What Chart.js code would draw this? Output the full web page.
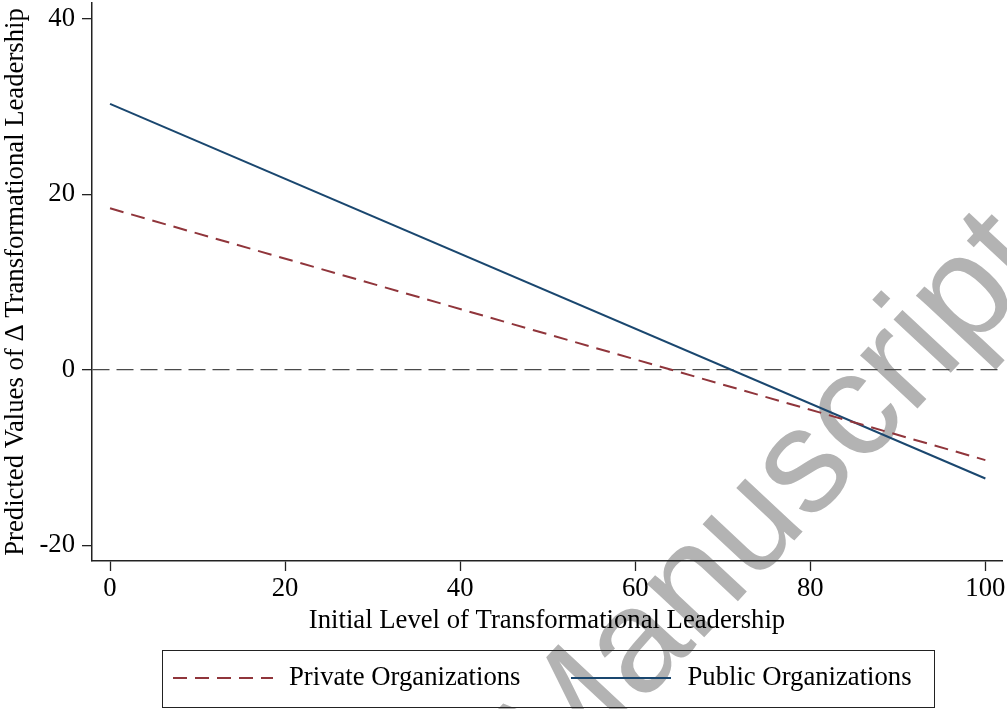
<!DOCTYPE html>
<html>
<head>
<meta charset="utf-8">
<title>Predicted change in transformational leadership</title>
<script src="https://cdn.jsdelivr.net/npm/chart.js@4"></script>
<style>
  body { margin: 0; background: #fff; }
  #wrap { position: relative; width: 1007px; height: 709px; }
  #legend {
    position: absolute; left: 162px; top: 650px; width: 771px; height: 56px;
    border: 1px solid #222; display: flex; align-items: center; box-sizing: content-box;
    font-family: "Liberation Serif", "Times New Roman", serif;
    font-size: 26.7px; color: #000;
  }
  .item { display: flex; align-items: center; margin-top: -5px; }
  .item svg { display: block; margin-right: 16px; margin-top: 2px; }
</style>
</head>
<body>
<div id="wrap">
  <canvas id="chart" width="1007" height="709"></canvas>
  <div id="legend"></div>
</div>
<script>
// x positions and predicted values
const xValues = [0, 100];
const privateValues = [18.4, -10.3];
const publicValues = [30.3, -12.4];

const xTicks = [0, 20, 40, 60, 80, 100];
const yTicks = [-20, 0, 20, 40];

const seriesNames = ['Private Organizations', 'Public Organizations'];
const seriesColors = ['#90353b', '#1a476f'];
const seriesDash = [[14, 8], []];

const serif = '"Liberation Serif", "Times New Roman", serif';
const fontSize = 26.7;

function toPoints(values) {
  return values.map((v, i) => ({ x: xValues[i], y: v }));
}

// grey "Manuscript" stamp behind everything
const watermark = {
  id: 'watermark',
  beforeDraw(chart) {
    const ctx = chart.ctx;
    ctx.save();
    ctx.fillStyle = '#fff';
    ctx.fillRect(0, 0, chart.width, chart.height);
    ctx.translate(557, 795);
    ctx.rotate(-47 * Math.PI / 180);
    ctx.font = '148px "Liberation Sans", Arial, sans-serif';
    ctx.fillStyle = '#b3b3b3';
    ctx.textBaseline = 'alphabetic';
    ctx.fillText('Manuscript', 0, 0);
    ctx.restore();
  }
};

const chart = new Chart(document.getElementById('chart'), {
  type: 'scatter',
  data: {
    datasets: [
      {
        label: seriesNames[0],
        data: toPoints(privateValues),
        showLine: true,
        borderColor: seriesColors[0],
        borderWidth: 2,
        borderDash: seriesDash[0],
        pointRadius: 0
      },
      {
        label: seriesNames[1],
        data: toPoints(publicValues),
        showLine: true,
        borderColor: seriesColors[1],
        borderWidth: 2,
        pointRadius: 0
      }
    ]
  },
  options: {
    responsive: false,
    animation: false,
    devicePixelRatio: 1,
    layout: { padding: { top: 3, right: 5, bottom: 59, left: 0 } },
    plugins: {
      legend: { display: false },
      tooltip: { enabled: false }
    },
    scales: {
      x: {
        type: 'linear',
        min: -2.06,
        max: 101.9,
        afterBuildTicks: (s) => { s.ticks = xTicks.map(v => ({ value: v })); },
        afterFit: (s) => { s.height = 89; s.paddingLeft = 0; s.paddingRight = 0; },
        ticks: { font: { family: serif, size: fontSize }, color: '#000', padding: 2, maxRotation: 0 },
        grid: { drawOnChartArea: false, tickLength: 10, tickColor: '#222', tickWidth: 1.3 },
        border: { color: '#222', width: 1.5 },
        title: {
          display: true,
          text: 'Initial Level of Transformational Leadership',
          font: { family: serif, size: fontSize },
          color: '#000',
          padding: { top: 0, bottom: 13 }
        }
      },
      y: {
        min: -21.8,
        max: 41.8,
        afterBuildTicks: (s) => { s.ticks = yTicks.map(v => ({ value: v })); },
        afterFit: (s) => { s.width = 92; s.paddingTop = 0; s.paddingBottom = 0; },
        ticks: { font: { family: serif, size: fontSize }, color: '#000', padding: 7 },
        grid: {
          drawOnChartArea: true,
          color: (c) => (c.tick && c.tick.value === 0 ? '#4a4a4a' : 'rgba(0,0,0,0)'),
          lineWidth: 1.3,
          tickLength: 10,
          tickColor: '#222',
          tickWidth: 1.3
        },
        border: { color: '#222', width: 1.5, dash: [17, 7] },
        title: {
          display: true,
          text: 'Predicted Values of Δ Transformational Leadership',
          font: { family: serif, size: fontSize },
          color: '#000',
          padding: { top: 0, bottom: 0 }
        }
      }
    }
  },
  plugins: [watermark]
});

// legend box below the plot, built from the datasets
const legend = document.getElementById('legend');
chart.data.datasets.forEach((ds, i) => {
  const item = document.createElement('div');
  item.className = 'item';
  item.style.marginLeft = i === 0 ? '10px' : '51px';
  const dash = (ds.borderDash || []).join(' ');
  item.innerHTML =
    '<svg width="100" height="10"><line x1="0" y1="5" x2="100" y2="5" stroke="' + ds.borderColor +
    '" stroke-width="2"' + (dash ? ' stroke-dasharray="' + dash + '"' : '') + '/></svg>' +
    '<span>' + ds.label + '</span>';
  legend.appendChild(item);
});
</script>
</body>
</html>
